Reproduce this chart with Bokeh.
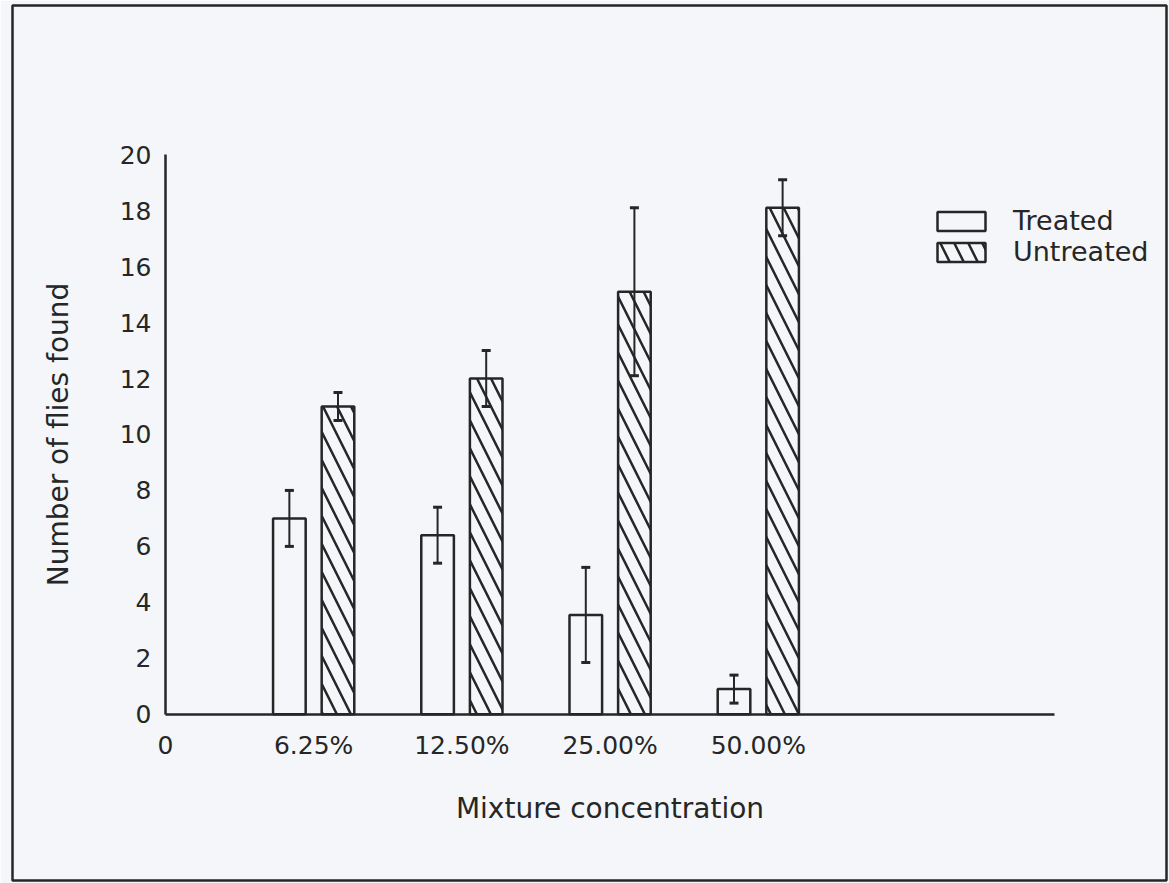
from bokeh.plotting import figure
from bokeh.models import (LinearAxis, FixedTicker, ColumnDataSource, Whisker, TeeHead,
                          Legend, LegendItem, Range1d)
from bokeh.embed import file_html
from bokeh.resources import INLINE

# ---- data ----
categories = ["6.25%", "12.50%", "25.00%", "50.00%"]
treated = [7.0, 6.4, 3.55, 0.9]
treated_err = [1.0, 1.0, 1.7, 0.5]
untreated = [11.0, 12.0, 15.1, 18.1]
untreated_err = [0.5, 1.0, 3.0, 1.0]
y_ticks = [0, 2, 4, 6, 8, 10, 12, 14, 16, 18, 20]

# ---- layout ----
pos = [i + 1 for i in range(len(categories))]
offset = 0.164
bar_w = 0.22
BG = "#f4f6f9"
INK = "#262626"
FONT = "DejaVu Sans"

p = figure(width=1169, height=883, output_backend="svg", toolbar_location=None,
           x_range=Range1d(-1.032, 6.754), y_range=Range1d(-5.94, 25.33),
           x_axis_location=None, y_axis_location=None)
p.min_border = 0
p.min_border_left = 12
p.min_border_right = 3
p.min_border_top = 5
p.min_border_bottom = 3
p.background_fill_color = BG
p.border_fill_color = BG
p.outline_line_color = INK
p.outline_line_width = 2.5
p.xgrid.visible = False
p.ygrid.visible = False

src_t = ColumnDataSource(dict(
    x=[v - offset for v in pos], top=treated,
    upper=[a + b for a, b in zip(treated, treated_err)],
    lower=[a - b for a, b in zip(treated, treated_err)]))
src_u = ColumnDataSource(dict(
    x=[v + offset for v in pos], top=untreated,
    upper=[a + b for a, b in zip(untreated, untreated_err)],
    lower=[a - b for a, b in zip(untreated, untreated_err)]))

r_t = p.vbar(x="x", top="top", bottom=0, width=bar_w, source=src_t,
             fill_color=None, line_color=INK, line_width=2.5)
r_u = p.vbar(x="x", top="top", bottom=0, width=bar_w, source=src_u,
             fill_color=None, line_color=INK, line_width=2.5,
             hatch_pattern="\\", hatch_color=INK, hatch_weight=2.5, hatch_scale=28)

for src in (src_t, src_u):
    w = Whisker(source=src, base="x", upper="upper", lower="lower",
                line_color=INK, line_width=2,
                upper_head=TeeHead(size=9, line_color=INK, line_width=3),
                lower_head=TeeHead(size=9, line_color=INK, line_width=3))
    p.add_layout(w)

# axes
xaxis = LinearAxis(fixed_location=0, bounds=(0, 6),
                   ticker=FixedTicker(ticks=[0] + pos),
                   major_label_overrides={0: "0", **{k: c for k, c in zip(pos, categories)}},
                   axis_label="Mixture concentration")
yaxis = LinearAxis(fixed_location=0, bounds=(0, 20),
                   ticker=FixedTicker(ticks=y_ticks),
                   axis_label="Number of flies found")
for ax in (xaxis, yaxis):
    ax.axis_line_color = INK
    ax.axis_line_width = 2.5
    ax.major_tick_line_color = None
    ax.minor_tick_line_color = None
    ax.major_tick_in = 0
    ax.major_tick_out = 0
    ax.major_label_text_font = FONT
    ax.major_label_text_font_size = "25px"
    ax.major_label_text_color = INK
    ax.axis_label_text_font = FONT
    ax.axis_label_text_font_size = "28px"
    ax.axis_label_text_font_style = "normal"
    ax.axis_label_text_color = INK
xaxis.major_label_standoff = 17
xaxis.axis_label_standoff = 28
yaxis.major_label_standoff = 14
yaxis.axis_label_standoff = 42
p.add_layout(xaxis, "below")
p.add_layout(yaxis, "left")

legend = Legend(items=[LegendItem(label="Treated", renderers=[r_t]),
                       LegendItem(label="Untreated", renderers=[r_u])],
                location=(919, 613), orientation="vertical",
                glyph_width=60, glyph_height=24, label_standoff=22,
                label_text_font=FONT, label_text_font_size="27px",
                label_text_color=INK, spacing=0, padding=0, margin=0,
                border_line_color=None, background_fill_alpha=0)
p.add_layout(legend)

open("out.html", "w").write(file_html(p, INLINE))
